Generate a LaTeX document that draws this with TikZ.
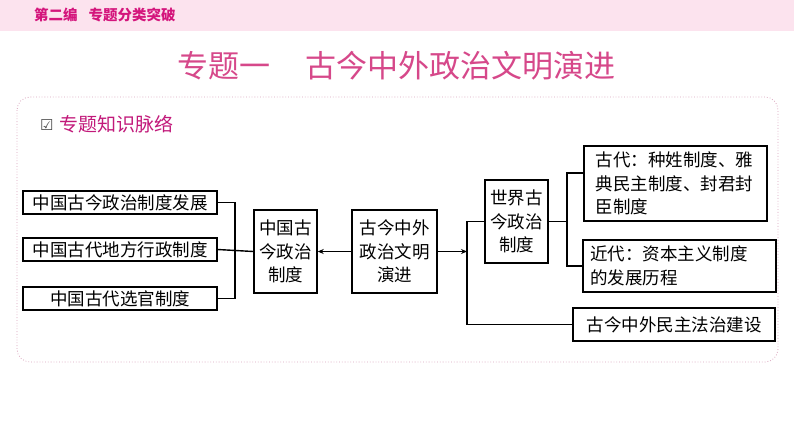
\documentclass[tikz,border=0pt]{standalone}
\usepackage{fontspec}
\newfontfamily\cjk{Noto Sans CJK SC}
\newfontfamily\dejavu{DejaVu Sans}
\usetikzlibrary{arrows.meta}
\definecolor{bandpink}{HTML}{FCE3EE}
\definecolor{headmag}{HTML}{D4157C}
\definecolor{titlepink}{HTML}{D6488A}
\definecolor{dotpink}{HTML}{D9A3BC}
\definecolor{secmag}{HTML}{C2197A}
\tikzset{
  box/.style={draw=black, line width=1.4pt, inner sep=0pt, font=\cjk\fontsize{17.5}{23.5}\selectfont, align=center},
  conn/.style={line width=1.4pt},
  arr/.style={conn, -{Stealth[length=6pt,width=5pt]}}
}
\begin{document}
\begin{tikzpicture}[x=1pt,y=-1pt]
\useasboundingbox (0,0) rectangle (794,447);
\fill[white] (0,0) rectangle (794,447);
\fill[bandpink] (0,0) rectangle (794,31);
\node[anchor=west, text=headmag, font=\cjk\bfseries\fontsize{14.5}{16}\selectfont, inner sep=0pt] (head) at (34,15) {第二编\hspace{11pt}专题分类突破};
\node[anchor=west, text=titlepink, font=\cjk\fontsize{31}{34}\selectfont, inner sep=0pt] (title) at (177,66) {专题一\hspace{35pt}古今中外政治文明演进};
\draw[dotpink, dotted, line width=0.8pt, rounded corners=13pt] (17,97) rectangle (778,362);
\node[anchor=west, text=black!70, font=\dejavu\fontsize{15}{16}\selectfont, inner sep=0pt] (chk) at (40,125) {☑};
\node[anchor=west, text=secmag, font=\cjk\fontsize{19}{21}\selectfont, inner sep=0pt] (sec) at (59,124) {专题知识脉络};

\node[box, minimum width=194pt, minimum height=23pt] (b1) at (120,202.5) {中国古今政治制度发展};
\node[box, minimum width=194pt, minimum height=23pt] (b2) at (120,249.5) {中国古代地方行政制度};
\node[box, minimum width=194pt, minimum height=23pt] (b3) at (120,298.5) {中国古代选官制度};
\node[box, minimum width=63pt, minimum height=83pt] (b4) at (285.5,251.5) {中国古\\今政治\\制度};
\node[box, minimum width=85pt, minimum height=83pt] (b5) at (394.5,251.5) {古今中外\\政治文明\\演进};
\node[box, minimum width=63pt, minimum height=83pt] (b6) at (516.5,221.5) {世界古\\今政治\\制度};
\node[box, minimum width=183pt, minimum height=75pt, align=left, text width=160pt] (b7) at (675.5,183.5) {古代：种姓制度、雅\\典民主制度、封君封\\臣制度};
\node[box, minimum width=193pt, minimum height=52pt, align=left, text width=179pt] (b8) at (679.5,266) {近代：资本主义制度\\的发展历程};
\node[box, minimum width=202pt, minimum height=33pt] (b9) at (674,324.5) {古今中外民主法治建设};

\coordinate (j1) at (235,249.5);
\coordinate (j2) at (467,251.5);
\coordinate (j3) at (567,221.5);
\draw[conn] (b1.east) -| (j1) |- (b3.east);
\draw[conn] (b2.east) -- (b4.west);
\draw[arr] (b5.west) -- (b4.east);
\draw[arr] (b5.east) -- (j2);
\draw[conn] (b6.west) -| (j2) |- (b9.west);
\draw[conn] (b6.east) -- (j3);
\draw[conn] ([yshift=10.5pt]b7.west) -| (j3) |- (b8.west);
\end{tikzpicture}
\end{document}
